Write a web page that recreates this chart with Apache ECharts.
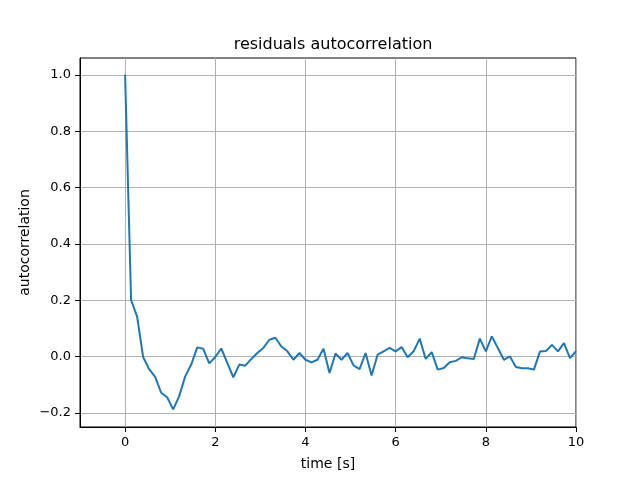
<!DOCTYPE html>
<html>
<head>
<meta charset="utf-8">
<script src="https://cdn.jsdelivr.net/npm/echarts@6/dist/echarts.min.js"></script>
<style>
  html, body { margin: 0; padding: 0; background: #fff; }
  #main { width: 640px; height: 480px; }
</style>
</head>
<body>
<div id="main"></div>
<script>
// sampling step of the autocorrelation lags (s)
const lagStep = 2 / 15;
const acf = [
  1.0, 0.201, 0.142, -0.001, -0.044, -0.072, -0.128, -0.144, -0.187, -0.140,
  -0.070, -0.028, 0.033, 0.028, -0.024, -0.001, 0.029, -0.022, -0.073, -0.028,
  -0.032, -0.008, 0.013, 0.031, 0.060, 0.067, 0.036, 0.019, -0.011, 0.013,
  -0.011, -0.020, -0.011, 0.028, -0.058, 0.011, -0.011, 0.013, -0.031, -0.044,
  0.013, -0.067, 0.007, 0.019, 0.031, 0.019, 0.034, -0.002, 0.019, 0.064,
  -0.008, 0.016, -0.046, -0.040, -0.020, -0.015, -0.002, -0.006, -0.008, 0.064,
  0.019, 0.072, 0.031, -0.011, 0.001, -0.037, -0.041, -0.041, -0.046, 0.018,
  0.020, 0.042, 0.019, 0.048, -0.005, 0.020
];
const xTicks = [0, 2, 4, 6, 8, 10];
const yTicks = [-0.2, 0.0, 0.2, 0.4, 0.6, 0.8, 1.0];

const points = acf.map((v, i) => [i * lagStep, v]);
const font = 'DejaVu Sans';

const chart = echarts.init(document.getElementById('main'));
const option = {
  animation: false,
  backgroundColor: '#fff',
  title: {
    text: 'residuals autocorrelation',
    left: 328,
    textAlign: 'center',
    top: 32,
    textStyle: { fontFamily: font, fontSize: 16, fontWeight: 'normal', color: '#000' }
  },
  grid: {
    left: 80, right: 64, top: 58, bottom: 53,
    show: true, borderColor: '#000', borderWidth: 1
  },
  xAxis: {
    type: 'value',
    min: -1,
    max: 10,
    name: 'time [s]',
    nameLocation: 'middle',
    nameGap: 30,
    nameMoveOverlap: false,
    nameTextStyle: { fontFamily: font, fontSize: 14, color: '#000' },
    axisLine: { show: true, onZero: false, lineStyle: { color: '#000' } },
    axisTick: { show: true, inside: false, length: 5, customValues: xTicks, lineStyle: { color: '#000' } },
    axisLabel: { customValues: xTicks, margin: 9, fontFamily: font, fontSize: 13, color: '#000' },
    splitLine: { show: true, lineStyle: { color: '#b0b0b0', width: 1 } }
  },
  yAxis: {
    type: 'value',
    min: -0.2495,
    max: 1.0595,
    name: 'autocorrelation',
    nameLocation: 'middle',
    nameRotate: 90,
    nameGap: 48,
    nameMoveOverlap: false,
    nameTextStyle: { fontFamily: font, fontSize: 14, color: '#000' },
    axisLine: { show: true, onZero: false, lineStyle: { color: '#000' } },
    axisTick: { show: true, inside: false, length: 5, customValues: yTicks, lineStyle: { color: '#000' } },
    axisLabel: {
      customValues: yTicks, margin: 9, fontFamily: font, fontSize: 13, color: '#000',
      formatter: v => (v < 0 ? '\u2212' : '') + Math.abs(v).toFixed(1)
    },
    splitLine: { show: true, lineStyle: { color: '#b0b0b0', width: 1 } }
  },
  series: [{
    type: 'line',
    data: points,
    showSymbol: false,
    clip: true,
    lineStyle: { color: '#1f77b4', width: 2 }
  }]
};
chart.setOption(option);
</script>
</body>
</html>
